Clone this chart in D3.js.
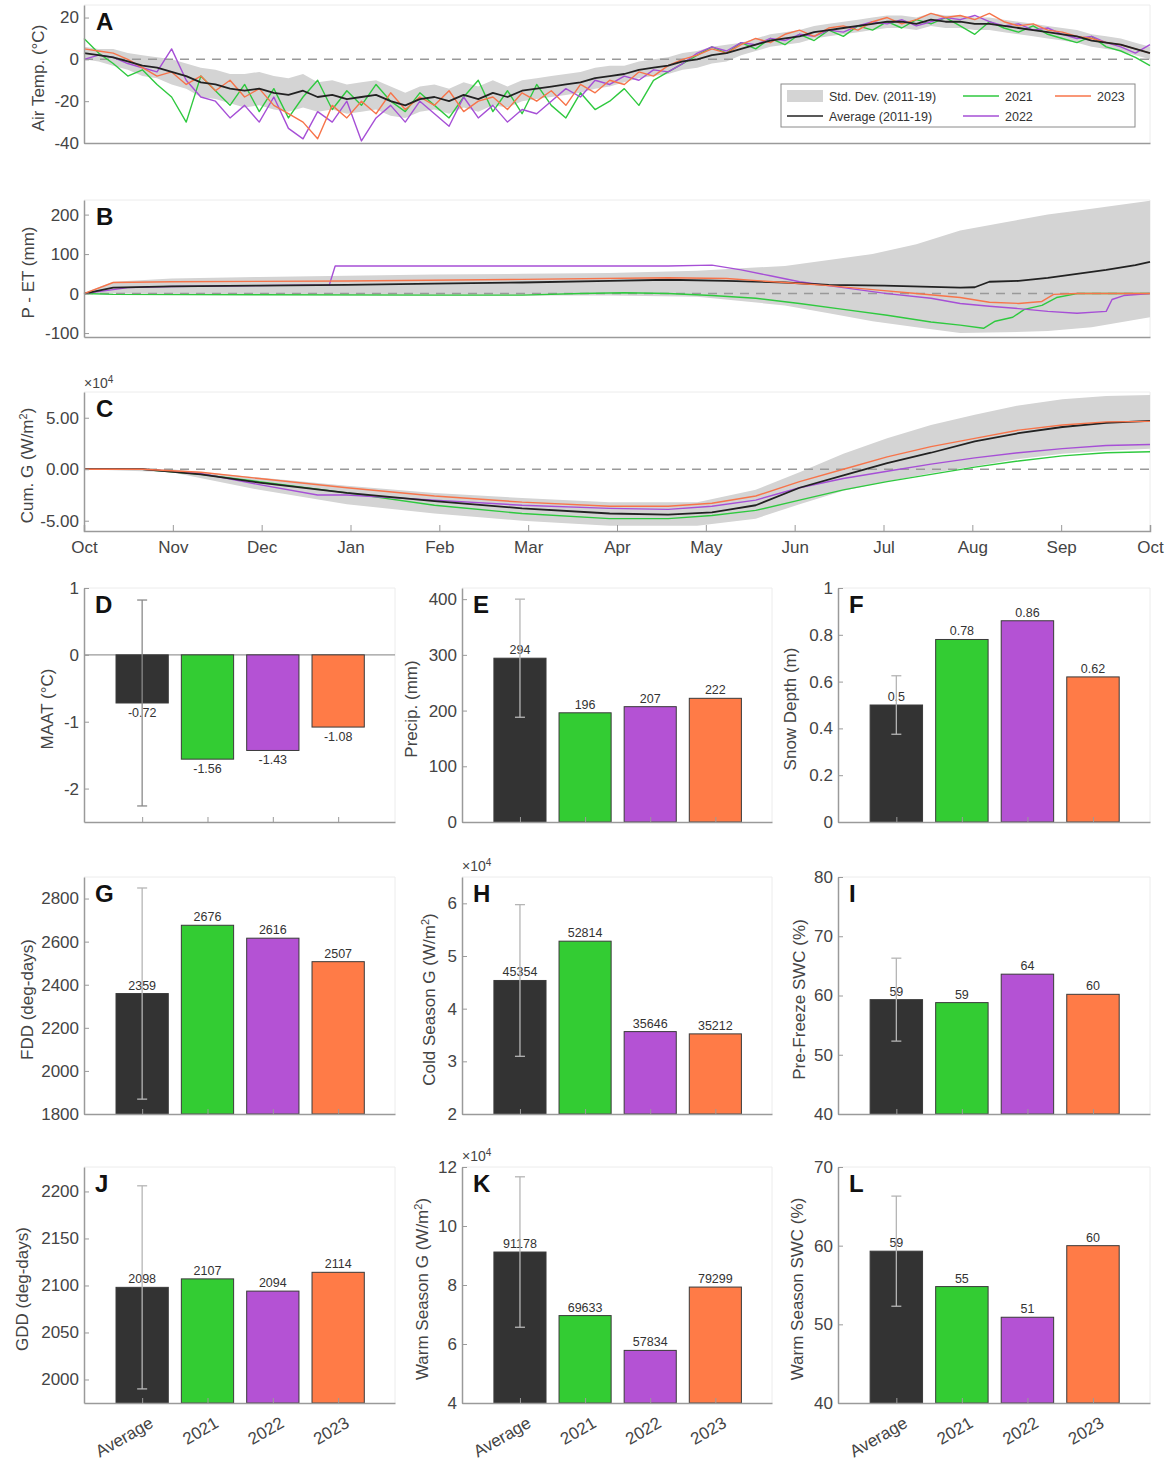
<!DOCTYPE html>
<html>
<head>
<meta charset="utf-8">
<script src="https://cdn.jsdelivr.net/npm/d3@7"></script>
<style>
  body { margin: 0; background: #fff; }
  svg text { font-family: "Liberation Sans", Arial, sans-serif; }
</style>
</head>
<body>
<div id="chart"></div>
<script>
// plain hyphen for negative numbers, like the original figure
d3.formatDefaultLocale({decimal: ".", thousands: ",", grouping: [3], currency: ["$", ""], minus: "-"});

// ---------------- data ----------------
var monthLabels = ["Oct", "Nov", "Dec", "Jan", "Feb", "Mar", "Apr", "May", "Jun", "Jul", "Aug", "Sep", "Oct"];
var groups      = ["Average", "2021", "2022", "2023"];
var barColors   = ["#333333", "#33cc33", "#b452d4", "#ff7b47"];
var lineColors  = ["#222222", "#2fc93f", "#a64fd6", "#f7744a"];

// panel A: air temperature, sampled every 5 days from 1 Oct
var tempAvg  = [3,2,1,-1,-3,-4,-6, -8,-11,-12,-14,-15,-14, -16,-17,-15,-18,-17,-19, -18,-17,-20,-22,-19,-18,
                -20,-17,-19,-16,-18,-15, -14,-13,-12,-11,-9,-8, -7,-5,-4,-3,-1,0, 2,3,5,7,9,10,
                11,13,14,15,16,17, 18,18,17,19,18,18, 17,17,16,15,14,13, 12,11,9,8,7,5,3];
var tempSd   = [3,3,4,4,5,5,6, 6,7,7,7,8,8, 8,8,8,7,7,7, 7,7,7,6,6,6, 6,6,6,6,5,5, 5,5,5,5,5,5,
                4,4,4,4,4,4, 4,4,3,3,3,3, 3,3,3,3,3,3, 3,3,3,3,3,3, 3,3,3,3,3,3, 3,3,3,3,3,3,3];
var temp2021 = [10,3,-2,-8,-5,-12,-18, -30,-8,-15,-22,-12,-25, -14,-28,-18,-10,-24,-15, -22,-12,-20,-25,-16,-22,
                -28,-18,-10,-25,-15,-26, -12,-22,-28,-16,-24,-20, -14,-22,-10,-6,-2,2, 6,3,8,5,10,7,
                12,9,14,11,16,14, 18,15,19,17,20,16, 12,18,15,13,16,12, 10,8,11,6,4,1,-3];
var temp2022 = [0,2,1,-2,-4,-6,5, -10,-18,-20,-28,-22,-30, -18,-33,-38,-25,-30,-20, -39,-28,-22,-30,-20,-26,
                -32,-18,-28,-22,-30,-24, -26,-20,-14,-18,-10,-12, -8,-10,-5,-6,-2,3, 6,4,8,7,10,9,
                12,11,14,13,16,18, 17,19,16,18,20,19, 21,18,16,17,14,15, 12,10,11,8,6,3,7];
var temp2023 = [5,4,3,0,-4,-8,-6, -12,-8,-15,-10,-18,-14, -22,-26,-30,-38,-22,-28, -20,-26,-16,-24,-18,-22,
                -15,-25,-20,-18,-24,-16, -20,-15,-22,-12,-16,-10, -12,-6,-8,-3,0,2, 5,3,7,10,8,12,
                14,11,15,16,14,18, 20,17,19,22,20,21, 19,22,18,16,17,14, 13,11,10,8,7,5,3];

// panel B: P - ET (mm), [day, value]
var petBand = [[0,-2,2],[10,0,30],[30,-2,38],[60,-3,42],[90,-4,45],[120,-5,48],[150,-5,50],[180,-5,52],
               [210,-8,58],[240,-30,70],[255,-50,85],[270,-70,100],[285,-85,125],[300,-100,160],
               [315,-98,180],[330,-95,200],[345,-85,215],[365,-60,235]];
var petAvg  = [[0,0],[10,15],[30,18],[60,20],[90,22],[120,25],[150,28],[180,32],[200,35],[220,32],
               [240,28],[255,22],[274,20],[300,15],[305,16],[310,30],[320,32],[330,40],[340,50],
               [350,60],[360,72],[365,80]];
var pet2021 = [[0,0],[10,-2],[60,-3],[120,-4],[150,-4],[170,0],[185,2],[200,0],[215,-5],[230,-12],
               [245,-25],[260,-40],[275,-55],[290,-72],[300,-80],[308,-88],[312,-70],[318,-60],
               [322,-40],[328,-30],[333,-10],[340,0],[365,0]];
var pet2022 = [[0,0],[15,15],[30,18],[84,22],[86,70],[150,70],[200,70],[215,72],[225,60],[235,45],
               [245,30],[260,15],[275,0],[290,-12],[300,-25],[310,-32],[320,-38],[330,-45],[340,-50],
               [350,-45],[352,-15],[356,-5],[365,0]];
var pet2023 = [[0,0],[10,28],[30,30],[90,32],[150,36],[200,40],[220,38],[240,28],[255,20],[270,10],
               [285,0],[300,-10],[310,-22],[320,-25],[328,-20],[332,-2],[340,0],[365,0]];

// panel C: cumulative G (x10^4 W/m2), [day, value]
var cumBand = [[0,0,0],[30,-0.3,0],[60,-2.0,-0.8],[90,-3.4,-1.6],[120,-4.3,-2.3],[150,-5.0,-2.8],
               [180,-5.5,-3.2],[210,-5.5,-3.2],[230,-4.8,-2.0],[245,-3.4,-0.3],[260,-2.1,1.5],
               [275,-1.2,3.0],[290,-0.4,4.3],[305,0.3,5.3],[320,1.0,6.2],[335,1.5,6.8],[350,1.8,7.1],[365,2.0,7.2]];
var cumAvg  = [[0,0],[20,0],[40,-0.5],[60,-1.3],[90,-2.3],[120,-3.1],[150,-3.8],[180,-4.3],[200,-4.4],
               [215,-4.2],[230,-3.5],[245,-1.8],[260,-0.6],[275,0.6],[290,1.6],[305,2.7],[320,3.5],
               [335,4.1],[350,4.5],[365,4.7]];
var cum2021 = [[0,0],[20,0],[40,-0.5],[60,-1.2],[90,-2.3],[120,-3.5],[150,-4.3],[180,-4.8],[200,-4.8],
               [215,-4.5],[230,-4.0],[245,-3.0],[260,-2.0],[275,-1.2],[290,-0.5],[305,0.2],[320,0.8],
               [335,1.3],[350,1.6],[365,1.7]];
var cum2022 = [[0,0],[20,0],[40,-0.4],[60,-1.5],[80,-2.5],[90,-2.5],[120,-3.0],[150,-3.5],[180,-3.8],
               [200,-3.9],[215,-3.6],[230,-3.0],[245,-1.8],[260,-0.9],[275,-0.2],[290,0.5],[305,1.1],
               [320,1.6],[335,2.0],[350,2.3],[365,2.4]];
var cum2023 = [[0,0],[20,0],[40,-0.3],[60,-0.9],[90,-1.8],[120,-2.6],[150,-3.2],[180,-3.6],[200,-3.6],
               [215,-3.3],[230,-2.6],[245,-1.2],[260,0],[275,1.2],[290,2.2],[305,3.0],[320,3.8],
               [335,4.3],[350,4.6],[365,4.65]];

// bar panels: values for Average, 2021, 2022, 2023 and std. dev. of the average
var maat    = [-0.72, -1.56, -1.43, -1.08];   var maatSd    = 1.54;
var precip  = [294, 196, 207, 222];           var precipSd  = 106;
var snow    = [0.5, 0.78, 0.86, 0.62];        var snowSd    = 0.125;
var fdd     = [2359, 2676, 2616, 2507];       var fddSd     = 490;
var coldG   = [45354, 52814, 35646, 35212];   var coldGSd   = 14400;
var preSwc  = [59.3, 58.8, 63.6, 60.2];       var preSwcSd  = 7;
var gdd     = [2098, 2107, 2094, 2114];       var gddSd     = 108;
var warmG   = [91178, 69633, 57834, 79299];   var warmGSd   = 25500;
var warmSwc = [59.3, 54.8, 50.9, 60.0];       var warmSwcSd = 7;

// ---------------- drawing ----------------
var svg = d3.select("#chart").append("svg")
    .attr("width", 1169).attr("height", 1461);
svg.append("rect").attr("width", 1169).attr("height", 1461).attr("fill", "#fff");

var axisGray = "#9a9a9a", textGray = "#444";

function styleAxis(g) {
  g.select(".domain").attr("stroke", axisGray).attr("stroke-width", 1.5);
  g.selectAll(".tick line").attr("stroke", axisGray);
  g.selectAll(".tick text").attr("fill", textGray).attr("font-size", 17)
    .attr("font-family", "Liberation Sans, Arial, sans-serif");
}

function yTitle(x, y, parts) {
  var t = svg.append("text")
    .attr("transform", "translate(" + x + "," + y + ") rotate(-90)")
    .attr("text-anchor", "middle").attr("font-size", 17).attr("fill", textGray);
  parts.forEach(function(p) {
    var s = t.append("tspan").text(p.t);
    if (p.sup) s.attr("baseline-shift", "super").attr("font-size", 11);
  });
}

function exponent(x, y) {
  var t = svg.append("text").attr("x", x).attr("y", y)
    .attr("font-size", 14).attr("fill", textGray).text("\u00d710");
  t.append("tspan").attr("baseline-shift", "super").attr("font-size", 10).text("4");
}

function letter(x, y, s) {
  svg.append("text").attr("x", x).attr("y", y).text(s)
    .attr("font-family", "Open Sans, sans-serif").attr("font-weight", 600)
    .attr("font-size", 24).attr("fill", "#111");
}

function box(x0, x1, y0, y1) {
  svg.append("path")
    .attr("d", "M" + x0 + "," + y0 + "H" + x1 + "V" + y1)
    .attr("fill", "none").attr("stroke", "#ececec");
}

// ---- time series panels ----
var xTime = d3.scaleLinear().domain([0, 365]).range([84, 1150]);
var monthTicks = monthLabels.map(function(m, i) { return i * 365 / 12; });

function linePanel(cfg) {
  var y = d3.scaleLinear().domain(cfg.domain).range([cfg.y1, cfg.y0]);
  box(84, 1150, cfg.y0, cfg.y1);

  var area = d3.area()
    .x(function(d) { return xTime(d[0]); })
    .y0(function(d) { return y(d[1]); })
    .y1(function(d) { return y(d[2]); });
  svg.append("path").datum(cfg.band).attr("d", area).attr("fill", "#d4d4d4");

  svg.append("line").attr("x1", 84).attr("x2", 1150).attr("y1", y(0)).attr("y2", y(0))
    .attr("stroke", "#999").attr("stroke-width", 1.5).attr("stroke-dasharray", "9,7");

  var line = d3.line()
    .x(function(d) { return xTime(d[0]); })
    .y(function(d) { return y(d[1]); });
  cfg.series.forEach(function(s) {
    svg.append("path").datum(s.data).attr("d", line)
      .attr("fill", "none").attr("stroke", lineColors[s.c])
      .attr("stroke-width", s.c === 0 ? 1.8 : 1.4).attr("stroke-linejoin", "round");
  });

  svg.append("g").attr("transform", "translate(84,0)")
    .call(d3.axisLeft(y).tickValues(cfg.ticks).tickFormat(cfg.fmt).tickSize(-5).tickSizeOuter(0).tickPadding(5))
    .call(styleAxis);

  var xa = d3.axisBottom(xTime).tickValues(monthTicks).tickSizeOuter(0)
    .tickSize(cfg.labels ? -6 : 0).tickPadding(10)
    .tickFormat(function(d, i) { return cfg.labels ? monthLabels[i] : ""; });
  svg.append("g").attr("transform", "translate(0," + cfg.y1 + ")").call(xa).call(styleAxis);

  letter(96, cfg.y0 + 25, cfg.letter);
  yTitle(cfg.titleX, (cfg.y0 + cfg.y1) / 2 + 4, cfg.title);
  return y;
}

var days5 = d3.range(0, 366, 5);
function pairs(vals) { return vals.map(function(v, i) { return [days5[i], v]; }); }

linePanel({
  y0: 5, y1: 143, domain: [-40, 26], ticks: [-40, -20, 0, 20], fmt: d3.format("d"),
  band: tempAvg.map(function(v, i) { return [days5[i], v - tempSd[i], v + tempSd[i]]; }),
  series: [{data: pairs(temp2021), c: 1}, {data: pairs(temp2022), c: 2},
           {data: pairs(temp2023), c: 3}, {data: pairs(tempAvg), c: 0}],
  letter: "A", titleX: 44, title: [{t: "Air Temp. (\u00b0C)"}]
});

linePanel({
  y0: 200, y1: 337, domain: [-110, 237], ticks: [-100, 0, 100, 200], fmt: d3.format("d"),
  band: petBand,
  series: [{data: pet2021, c: 1}, {data: pet2022, c: 2}, {data: petAvg, c: 0}, {data: pet2023, c: 3}],
  letter: "B", titleX: 34, title: [{t: "P - ET (mm)"}]
});

linePanel({
  y0: 392, y1: 531, domain: [-6, 7.5], ticks: [-5, 0, 5], fmt: d3.format(".2f"),
  band: cumBand,
  series: [{data: cum2021, c: 1}, {data: cum2022, c: 2}, {data: cumAvg, c: 0}, {data: cum2023, c: 3}],
  letter: "C", titleX: 33, title: [{t: "Cum. G (W/m"}, {t: "2", sup: true}, {t: ")"}], labels: true
});
exponent(84, 388);

// legend in panel A
var lg = svg.append("g").attr("transform", "translate(781,84)");
lg.append("rect").attr("width", 354).attr("height", 43).attr("fill", "#fff").attr("stroke", "#8a8a8a");
var legendItems = [
  {label: "Std. Dev. (2011-19)", patch: true, x: 6, y: 12},
  {label: "2021", c: 1, x: 182, y: 12},
  {label: "2023", c: 3, x: 274, y: 12},
  {label: "Average (2011-19)", c: 0, x: 6, y: 32},
  {label: "2022", c: 2, x: 182, y: 32}
];
legendItems.forEach(function(it) {
  if (it.patch) {
    lg.append("rect").attr("x", it.x).attr("y", it.y - 6).attr("width", 36).attr("height", 12).attr("fill", "#d4d4d4");
  } else {
    lg.append("line").attr("x1", it.x).attr("x2", it.x + 36).attr("y1", it.y).attr("y2", it.y)
      .attr("stroke", lineColors[it.c]).attr("stroke-width", 1.5);
  }
  lg.append("text").attr("x", it.x + 42).attr("y", it.y + 4.5).attr("font-size", 12.5)
    .attr("fill", "#333").text(it.label);
});

// ---- bar panels ----
var cols = [[84, 395], [462, 772], [838, 1150]];
var rows = [[588, 822], [877, 1114], [1167, 1403]];

function barPanel(cfg) {
  var x0 = cols[cfg.col][0], x1 = cols[cfg.col][1];
  var y0 = rows[cfg.row][0], y1 = rows[cfg.row][1];
  var k = cfg.scale || 1;
  var x = d3.scaleLinear().domain([0.11, 4.87]).range([x0, x1]);
  var y = d3.scaleLinear().domain(cfg.domain).range([y1, y0]);
  var base = Math.max(cfg.domain[0], Math.min(0, cfg.domain[1]));
  var bw = x(1.4) - x(0.6);

  box(x0, x1, y0, y1);
  if (cfg.domain[0] < 0) {
    svg.append("line").attr("x1", x0).attr("x2", x1).attr("y1", y(0)).attr("y2", y(0))
      .attr("stroke", axisGray).attr("stroke-width", 1.2);
  }

  var g = svg.append("g");
  g.selectAll("rect").data(cfg.values).enter().append("rect")
    .attr("x", function(d, i) { return x(i + 1) - bw / 2; })
    .attr("y", function(d) { return Math.min(y(d / k), y(base)); })
    .attr("width", bw)
    .attr("height", function(d) { return Math.abs(y(d / k) - y(base)); })
    .attr("fill", function(d, i) { return barColors[i]; })
    .attr("stroke", "#3a3a3a").attr("stroke-width", 1);

  // error bar on the average
  var m = cfg.values[0] / k, s = cfg.sd / k, ex = x(1);
  var eg = svg.append("g").attr("stroke", cfg.errColor || "#b5b5b5").attr("stroke-width", 1.3);
  eg.append("line").attr("x1", ex).attr("x2", ex).attr("y1", y(m - s)).attr("y2", y(m + s));
  [m - s, m + s].forEach(function(v) {
    eg.append("line").attr("x1", ex - 5).attr("x2", ex + 5).attr("y1", y(v)).attr("y2", y(v));
  });

  // value labels
  g.selectAll("text").data(cfg.values).enter().append("text")
    .attr("x", function(d, i) { return x(i + 1); })
    .attr("y", function(d) { return d < 0 ? y(d / k) + 14 : y(d / k) - 4; })
    .attr("text-anchor", "middle").attr("font-size", 12.5).attr("fill", "#333")
    .text(function(d) { return cfg.vfmt(d); });

  svg.append("g").attr("transform", "translate(" + x0 + ",0)")
    .call(d3.axisLeft(y).tickValues(cfg.ticks).tickFormat(cfg.fmt).tickSize(-5).tickSizeOuter(0).tickPadding(5))
    .call(styleAxis);
  svg.append("g").attr("transform", "translate(0," + y1 + ")")
    .call(d3.axisBottom(x).tickValues([1, 2, 3, 4]).tickSize(-5).tickSizeOuter(0).tickFormat(""))
    .call(styleAxis);

  if (cfg.row === 2) {
    groups.forEach(function(gname, i) {
      svg.append("text")
        .attr("transform", "translate(" + (x(i + 1) + 8) + "," + (y1 + 16) + ") rotate(-30)")
        .attr("text-anchor", "end").attr("dy", "0.5em")
        .attr("font-size", 17).attr("fill", textGray).text(gname);
    });
  }

  letter(x0 + 11, y0 + 25, cfg.letter);
  yTitle(cfg.titleX, (y0 + y1) / 2 + 4, cfg.title);
  if (k !== 1) exponent(x0, y0 - 6);
}

var f0 = d3.format(".0f");
barPanel({col: 0, row: 0, domain: [-2.5, 1], ticks: [-2, -1, 0, 1], fmt: d3.format("d"),
  values: maat, sd: maatSd, vfmt: d3.format(".2f"), errColor: "#8a8a8a",
  letter: "D", titleX: 53, title: [{t: "MAAT (\u00b0C)"}]});
barPanel({col: 1, row: 0, domain: [0, 420], ticks: [0, 100, 200, 300, 400], fmt: d3.format("d"),
  values: precip, sd: precipSd, vfmt: f0,
  letter: "E", titleX: 417, title: [{t: "Precip. (mm)"}]});
barPanel({col: 2, row: 0, domain: [0, 1], ticks: [0, 0.2, 0.4, 0.6, 0.8, 1], fmt: d3.format("~g"),
  values: snow, sd: snowSd, vfmt: d3.format("~g"),
  letter: "F", titleX: 796, title: [{t: "Snow Depth (m)"}]});

barPanel({col: 0, row: 1, domain: [1800, 2900], ticks: [1800, 2000, 2200, 2400, 2600, 2800], fmt: d3.format("d"),
  values: fdd, sd: fddSd, vfmt: f0,
  letter: "G", titleX: 33, title: [{t: "FDD (deg-days)"}]});
barPanel({col: 1, row: 1, domain: [2, 6.5], ticks: [2, 3, 4, 5, 6], fmt: d3.format("d"), scale: 1e4,
  values: coldG, sd: coldGSd, vfmt: f0,
  letter: "H", titleX: 435, title: [{t: "Cold Season G (W/m"}, {t: "2", sup: true}, {t: ")"}]});
barPanel({col: 2, row: 1, domain: [40, 80], ticks: [40, 50, 60, 70, 80], fmt: d3.format("d"),
  values: preSwc, sd: preSwcSd, vfmt: f0,
  letter: "I", titleX: 805, title: [{t: "Pre-Freeze SWC (%)"}]});

barPanel({col: 0, row: 2, domain: [1975, 2226], ticks: [2000, 2050, 2100, 2150, 2200], fmt: d3.format("d"),
  values: gdd, sd: gddSd, vfmt: f0,
  letter: "J", titleX: 28, title: [{t: "GDD (deg-days)"}]});
barPanel({col: 1, row: 2, domain: [4, 12], ticks: [4, 6, 8, 10, 12], fmt: d3.format("d"), scale: 1e4,
  values: warmG, sd: warmGSd, vfmt: f0,
  letter: "K", titleX: 428, title: [{t: "Warm Season G (W/m"}, {t: "2", sup: true}, {t: ")"}]});
barPanel({col: 2, row: 2, domain: [40, 70], ticks: [40, 50, 60, 70], fmt: d3.format("d"),
  values: warmSwc, sd: warmSwcSd, vfmt: f0,
  letter: "L", titleX: 803, title: [{t: "Warm Season SWC (%)"}]});
</script>
</body>
</html>
